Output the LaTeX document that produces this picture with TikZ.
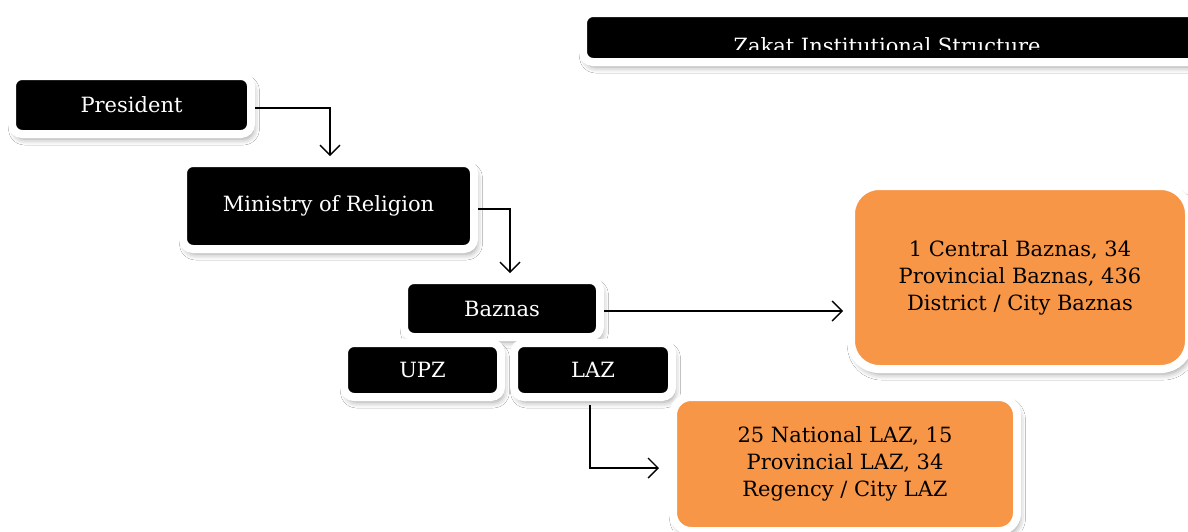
\documentclass[tikz,border=0pt]{standalone}
\usepackage{fontspec}
\setmainfont{DejaVu Serif}
\usetikzlibrary{arrows.meta,shadows.blur}
\definecolor{zorange}{HTML}{F79646}
\tikzset{
  box/.style={rounded corners=10pt, fill=black, draw=white, line width=8pt,
    text=white, font=\fontsize{21}{27}\selectfont, inner sep=0pt, align=center,
    blur shadow={shadow xshift=2.5pt, shadow yshift=-5pt, shadow blur radius=6pt,
      shadow opacity=40}},
  obox/.style={box, fill=zorange, text=black},
  conn/.style={draw=black, line width=1.5pt,
    -{Straight Barb[length=10pt,width=20pt,line width=1.4pt]}}
}
\begin{document}
\begin{tikzpicture}[x=1pt,y=-1pt]
\clip (0,0) rectangle (1188,531);
\fill[white] (0,0) rectangle (1188,531);
% title
\node[box, minimum width=620pt, minimum height=49pt] (title) at (893,37.5) {};
\begin{scope}
\clip (580,20) rectangle (1188,49.5);
\node[text=white, font=\fontsize{21}{27}\selectfont, anchor=base] (ttext) at (887,53) {Zakat Institutional Structure};
\end{scope}
\node[box, minimum width=239pt, minimum height=58pt] (pres) at (131.5,105) {President};
\node[box, minimum width=291pt, minimum height=86pt] (min) at (328.5,206) {Ministry of Religion};
\node[box, minimum width=196pt, minimum height=57pt] (baz) at (502,308.5) {Baznas};
\node[box, minimum width=157pt, minimum height=54pt] (upz) at (422.5,370) {UPZ};
\node[box, minimum width=158pt, minimum height=54pt] (laz) at (593,370) {LAZ};
\node[obox, rounded corners=28pt, minimum width=338pt, minimum height=183pt] (o1) at (1020,277.5)
  {1 Central Baznas, 34\\Provincial Baznas, 436\\District / City Baznas};
\node[obox, rounded corners=18pt, minimum width=344pt, minimum height=134pt] (o2) at (845,464)
  {25 National LAZ, 15\\Provincial LAZ, 34\\Regency / City LAZ};
% connectors
\draw[conn, shorten >=3pt] ([yshift=-3pt]pres.east) -| ([xshift=1.5pt]min.north);
\draw[conn, shorten >=3pt] ([yshift=-3pt]min.east) -| ([xshift=8pt]baz.north);
\draw[conn, shorten >=4pt] ([yshift=-2.5pt]baz.east) -- ([yshift=-2.5pt]baz.east -| o1.west);
\draw[conn, shorten >=10pt] ([xshift=-3pt,yshift=-4pt]laz.south) |- ([yshift=-4pt]o2.west);
\end{tikzpicture}
\end{document}
